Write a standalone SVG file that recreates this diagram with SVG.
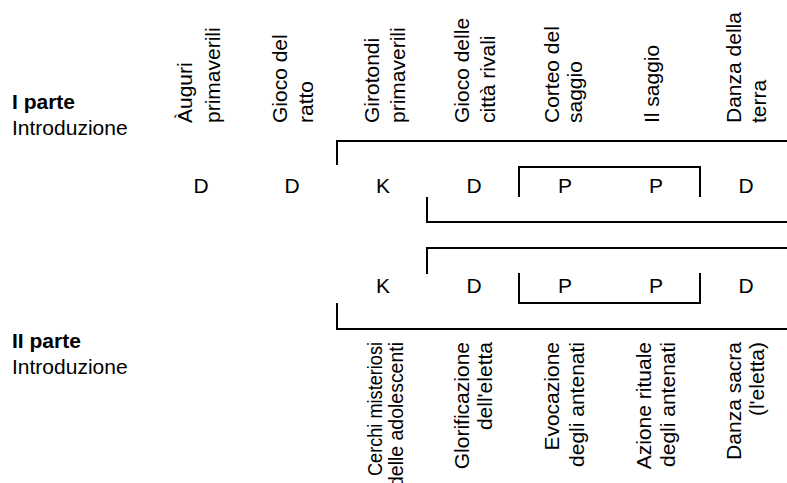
<svg xmlns="http://www.w3.org/2000/svg" width="787" height="483" viewBox="0 0 787 483">
<style>
text{font-family:"Liberation Sans",Arial,Helvetica,sans-serif;font-size:21px;fill:#000}
.b{font-weight:bold}
.c{text-anchor:middle}
.e{text-anchor:end}
.br{fill:none;stroke:#000;stroke-width:2}
</style>
<rect width="787" height="483" fill="#fff"/>
<g id="part1">
<text x="12" y="109" class="b">I parte</text>
<text x="12" y="135">Introduzione</text>
</g>
<g id="part2">
<text x="12" y="348" class="b">II parte</text>
<text x="12" y="374">Introduzione</text>
</g>
<g id="top-labels">
<g id="t1"><text transform="translate(192,123) rotate(-90)">Àuguri</text><text transform="translate(220,123) rotate(-90)">primaverili</text></g>
<g id="t2"><text transform="translate(287,123) rotate(-90)">Gioco del</text><text transform="translate(313,123) rotate(-90)">ratto</text></g>
<g id="t3"><text transform="translate(379,123) rotate(-90)">Girotondi</text><text transform="translate(405,123) rotate(-90)">primaverili</text></g>
<g id="t4"><text transform="translate(469,123) rotate(-90)">Gioco delle</text><text transform="translate(495,123) rotate(-90)">città rivali</text></g>
<g id="t5"><text transform="translate(559,123) rotate(-90)">Corteo del</text><text transform="translate(582,123) rotate(-90)">saggio</text></g>
<g id="t6"><text transform="translate(659,123) rotate(-90)">Il saggio</text></g>
<g id="t7"><text transform="translate(741,123) rotate(-90)">Danza della</text><text transform="translate(766,123) rotate(-90)">terra</text></g>
</g>
<g id="row1">
<text x="201" y="193" class="c">D</text>
<text x="292" y="193" class="c">D</text>
<text x="383" y="193" class="c">K</text>
<text x="474" y="193" class="c">D</text>
<text x="565" y="193" class="c">P</text>
<text x="656" y="193" class="c">P</text>
<text x="746" y="193" class="c">D</text>
</g>
<g id="row2">
<text x="383" y="293" class="c">K</text>
<text x="474" y="293" class="c">D</text>
<text x="565" y="293" class="c">P</text>
<text x="656" y="293" class="c">P</text>
<text x="746" y="293" class="c">D</text>
</g>
<g id="bottom-labels">
<g id="b1"><text class="e" transform="translate(382,342) rotate(-90)" textLength="134" lengthAdjust="spacingAndGlyphs">Cerchi misteriosi</text><text class="e" transform="translate(403,342) rotate(-90)" textLength="145" lengthAdjust="spacingAndGlyphs">delle adolescenti</text></g>
<g id="b2"><text class="e" transform="translate(469,342) rotate(-90)">Glorificazione</text><text class="e" transform="translate(492,342) rotate(-90)">dell'eletta</text></g>
<g id="b3"><text class="e" transform="translate(559,342) rotate(-90)">Evocazione</text><text class="e" transform="translate(584,342) rotate(-90)">degli antenati</text></g>
<g id="b4"><text class="e" transform="translate(651,342) rotate(-90)">Azione rituale</text><text class="e" transform="translate(675,342) rotate(-90)">degli antenati</text></g>
<g id="b5"><text class="e" transform="translate(741,342) rotate(-90)">Danza sacra</text><text class="e" transform="translate(764,342) rotate(-90)">(l'eletta)</text></g>
</g>
<g id="connectors" class="br">
<path d="M337,165V141H787"/>
<path d="M519,197V167H700V197"/>
<path d="M427,197V222H787"/>
<path d="M427,274V248H787"/>
<path d="M519,273V303H700V273"/>
<path d="M337,303V329H787"/>
</g>
</svg>
